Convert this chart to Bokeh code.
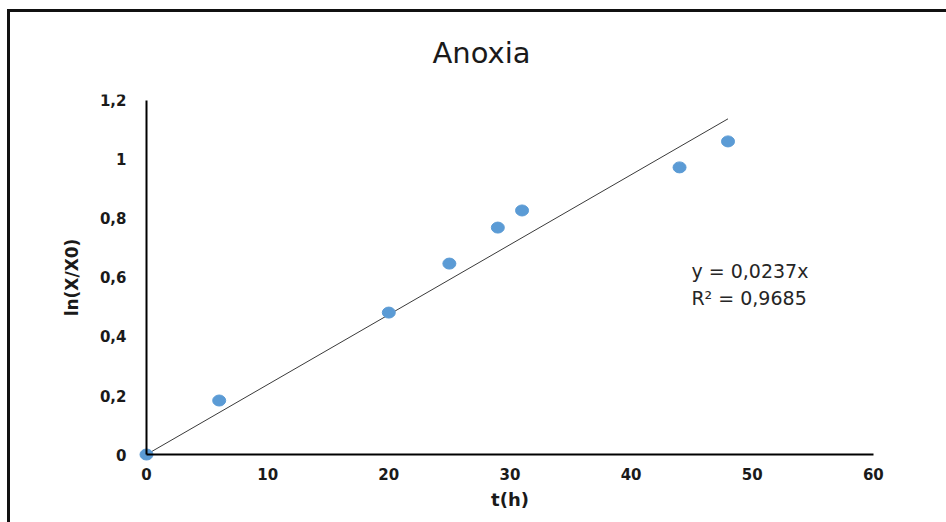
from bokeh.plotting import figure
from bokeh.models import FixedTicker, CustomJSTickFormatter, Label
from bokeh.embed import file_html
from bokeh.resources import INLINE

# ---- data ----
t_hours = [0, 6, 20, 25, 29, 31, 44, 48]
ln_ratio = [0.0, 0.183, 0.481, 0.647, 0.769, 0.827, 0.973, 1.061]
slope = 0.0237
r_squared = "0,9685"
trend_x = [0, 48]
x_ticks = [0, 10, 20, 30, 40, 50, 60]
y_ticks = [0, 0.2, 0.4, 0.6, 0.8, 1.0, 1.2]
title_text = "Anoxia"
x_label = "t(h)"
y_label = "ln(X/X0)"

trend_y = [slope * x for x in trend_x]

p = figure(width=936, height=510, output_backend="svg", toolbar_location=None,
           x_range=(-8.75, 61), y_range=(-0.2168, 1.22),
           min_border_left=30, min_border_right=61, min_border_top=82, min_border_bottom=4)
p.background_fill_color = "white"
p.border_fill_color = "white"
p.outline_line_color = None
p.grid.visible = False
p.styles = {"margin-left": "10px", "margin-top": "12px",
            "box-shadow": "0 -3px 0 0 #111111, -3px 0 0 0 #111111, -3px -3px 0 0 #111111"}

# title
p.title.text = title_text
p.title.text_font = "DejaVu Sans"
p.title.text_font_size = "29px"
p.title.text_font_style = "normal"
p.title.text_color = "#1a1a1a"
p.title.align = "left"
p.title.offset = 392
p.title.standoff = 45
p.title.vertical_align = "top"

fmt = CustomJSTickFormatter(code="return (Math.round(tick*10)/10).toString().replace('.', ',');")

for ax, ticks, lab in ((p.xaxis[0], x_ticks, x_label), (p.yaxis[0], y_ticks, y_label)):
    ax.ticker = FixedTicker(ticks=ticks)
    ax.formatter = fmt
    ax.fixed_location = 0
    ax.major_tick_line_color = None
    ax.minor_tick_line_color = None
    ax.major_tick_out = 0
    ax.major_tick_in = 0
    ax.axis_line_color = "black"
    ax.axis_line_width = 2
    ax.major_label_text_font = "DejaVu Sans"
    ax.major_label_text_font_style = "bold"
    ax.major_label_text_font_size = "15px"
    ax.major_label_text_color = "#1a1a1a"
    ax.axis_label = lab
    ax.axis_label_text_font = "DejaVu Sans"
    ax.axis_label_text_font_style = "bold"
    ax.axis_label_text_color = "#1a1a1a"

p.xaxis[0].axis_label_text_font_size = "18px"
p.yaxis[0].axis_label_text_font_size = "17px"
p.xaxis[0].bounds = (0, 60)
p.yaxis[0].bounds = (0, 1.2)
p.xaxis[0].major_label_standoff = 13
p.xaxis[0].axis_label_standoff = 6
p.yaxis[0].major_label_standoff = 20
p.yaxis[0].axis_label_standoff = 15

# trend line
p.line(trend_x, trend_y, line_color="#3a3a3a", line_width=1)

# data points
p.ellipse(t_hours, ln_ratio, width=13, height=11, width_units="screen", height_units="screen",
          fill_color="#5B9BD5", line_color="#5B9BD5")

# equation labels
eq1 = Label(x=44.98, y=0.623, text="y = " + str(slope).replace(".", ",") + "x",
            text_font="DejaVu Sans", text_font_size="19px", text_color="#262626",
            text_baseline="middle", text_align="left")
eq2 = Label(x=44.98, y=0.532, text="R² = " + r_squared,
            text_font="DejaVu Sans", text_font_size="19px", text_color="#262626",
            text_baseline="middle", text_align="left")
p.add_layout(eq1)
p.add_layout(eq2)

open("out.html", "w").write(file_html(p, INLINE))
